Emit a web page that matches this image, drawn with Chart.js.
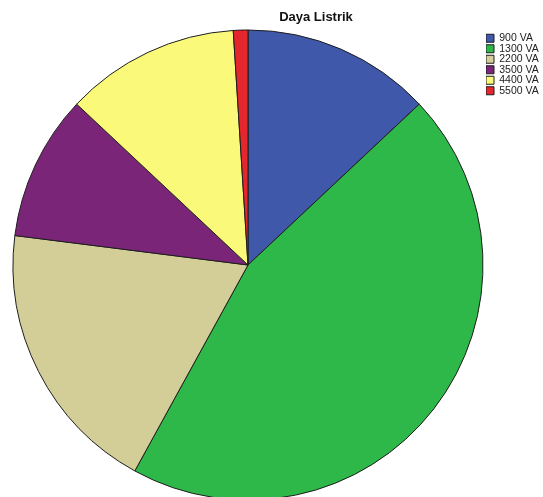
<!DOCTYPE html>
<html>
<head>
<meta charset="utf-8">
<title>Daya Listrik</title>
<script src="https://cdn.jsdelivr.net/npm/chart.js@4.4.1/dist/chart.umd.min.js"></script>
<style>
    html, body { margin: 0; padding: 0; background: #fff; overflow: hidden; }
    #grafica { position: relative; width: 543px; height: 497px; }
</style>
</head>
<body>
<div id="grafica"><canvas id="dayaChart"></canvas></div>
<script>
// datos
const categorias = ["900 VA", "1300 VA", "2200 VA", "3500 VA", "4400 VA", "5500 VA"];
const valores = [13, 45, 19, 10, 12, 1];
const colores = ["#3f58aa", "#2eb84a", "#d3ce98", "#7b2579", "#faf97a", "#e5262d"];
const titulo = "Daya Listrik";

// titulo dibujado encima, como en el original (no centrado sobre el canvas)
const tituloPlugin = {
    id: "tituloPlugin",
    afterDraw(chart) {
        const ctx = chart.ctx;
        ctx.save();
        ctx.font = "bold 13px 'Liberation Sans', Arial, sans-serif";
        ctx.fillStyle = "#111";
        ctx.textAlign = "center";
        ctx.textBaseline = "alphabetic";
        ctx.fillText(titulo, 316, 21);
        ctx.restore();
    },
};

window.onload = function () {
    let ctx = document.getElementById("dayaChart").getContext("2d");

    new Chart(ctx, {
        type: "pie",
        data: {
            labels: categorias,
            datasets: [
                {
                    label: titulo,
                    data: valores,
                    backgroundColor: colores,
                    borderColor: "#1e1e1e",
                    borderWidth: 1,
                    radius: 235,
                    clip: false,
                },
            ],
        },
        options: {
            responsive: true,
            maintainAspectRatio: false,
            animation: false,
            layout: {
                padding: { left: 10, top: 33, right: 0, bottom: 0 },
            },
            plugins: {
                title: { display: false },
                tooltip: { enabled: false },
                legend: {
                    position: "right",
                    align: "start",
                    fullSize: false,
                    maxWidth: 57,
                    labels: {
                        boxWidth: 8,
                        boxHeight: 8,
                        padding: 0,
                        color: "#222",
                        font: { family: "'Liberation Sans', Arial, sans-serif", size: 10.5 },
                    },
                },
            },
        },
        plugins: [tituloPlugin],
    });
};
</script>
</body>
</html>
